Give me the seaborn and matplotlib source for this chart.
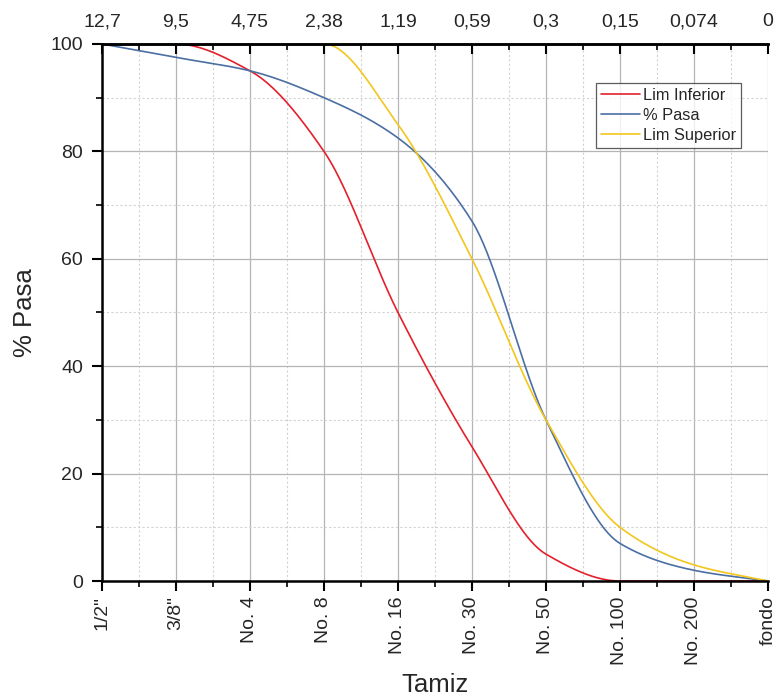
import numpy as np
import pandas as pd
import matplotlib
matplotlib.use("Agg")
import matplotlib.pyplot as plt
from matplotlib.ticker import MultipleLocator, FixedLocator
import seaborn as sns

sieves = ['1/2"', '3/8"', 'No. 4', 'No. 8', 'No. 16', 'No. 30', 'No. 50', 'No. 100', 'No. 200', 'fondo']
openings = ['12,7', '9,5', '4,75', '2,38', '1,19', '0,59', '0,3', '0,15', '0,074', '0']
lim_inferior = [100, 100, 95, 80, 50, 25, 5, 0, 0, 0]
pasa = [100, 97.5, 95, 90, 82.5, 67, 30, 7, 2, 0]
lim_superior = [100, 100, 100, 100, 85, 60, 30, 10, 3, 0]

series = {"Lim Inferior": lim_inferior, "% Pasa": pasa, "Lim Superior": lim_superior}
colors = {"Lim Inferior": "#E3202C", "% Pasa": "#4A6FA3", "Lim Superior": "#F2C61C"}


def pchip(x, y, xs):
    x = np.asarray(x, float); y = np.asarray(y, float)
    h = np.diff(x); d = np.diff(y) / h
    n = len(x); m = np.zeros(n)
    for k in range(1, n - 1):
        if d[k - 1] * d[k] > 0:
            w1 = 2 * h[k] + h[k - 1]; w2 = h[k] + 2 * h[k - 1]
            m[k] = (w1 + w2) / (w1 / d[k - 1] + w2 / d[k])
    m[0] = d[0] if d[0] * d[1] > 0 else 0
    m[-1] = d[-1] if d[-1] * d[-2] > 0 else 0
    idx = np.clip(np.searchsorted(x, xs) - 1, 0, n - 2)
    t = (xs - x[idx]) / h[idx]
    h00 = 2 * t**3 - 3 * t**2 + 1; h10 = t**3 - 2 * t**2 + t
    h01 = -2 * t**3 + 3 * t**2; h11 = t**3 - t**2
    return h00 * y[idx] + h10 * h[idx] * m[idx] + h01 * y[idx + 1] + h11 * h[idx] * m[idx + 1]


pos = np.arange(len(sieves))
xs = np.linspace(0, len(sieves) - 1, 600)
frames = []
for name, vals in series.items():
    frames.append(pd.DataFrame({"x": xs, "y": pchip(pos, vals, xs), "serie": name}))
df = pd.concat(frames, ignore_index=True)

sns.set_style("white")
plt.rcParams['font.family'] = ['Liberation Sans', 'DejaVu Sans']

fig = plt.figure(figsize=(7.82, 6.98), dpi=100)
ax = fig.add_axes([0.1304, 0.1676, 0.8517, 0.7694])

sns.lineplot(data=df, x="x", y="y", hue="serie", palette=colors, ax=ax,
             linewidth=1.2, estimator=None, sort=False)

ax.set_xlim(0, len(sieves) - 1)
ax.set_ylim(0, 100)
ax.xaxis.set_major_locator(FixedLocator(pos))
ax.xaxis.set_minor_locator(MultipleLocator(0.5))
ax.set_xticklabels(sieves, rotation=90, fontsize=14)
ax.yaxis.set_major_locator(MultipleLocator(20))
ax.yaxis.set_minor_locator(MultipleLocator(10))
ax.tick_params(axis='y', labelsize=14, pad=6)
ax.tick_params(which='major', direction='out', length=7.5, width=1.5, color='black')
ax.tick_params(which='minor', direction='out', length=4.5, width=1.2, color='black')
ax.tick_params(axis='y', which='both', left=True)
ax.tick_params(axis='x', which='both', bottom=True)

ax.grid(which='major', color='#B5B5B5', linewidth=0.9, linestyle='-')
ax.grid(which='minor', color='#D2D2D2', linewidth=0.8, linestyle=(0, (2, 2)))
ax.set_axisbelow(True)

for s in ['left', 'bottom', 'top']:
    ax.spines[s].set_color('black')
    ax.spines[s].set_linewidth(1.8)
ax.spines['right'].set_visible(False)

ax.set_xlabel("Tamiz", fontsize=18.5, labelpad=6)
ax.set_ylabel("% Pasa", fontsize=18.5, labelpad=10)

top = ax.twiny()
top.set_xlim(ax.get_xlim())
top.xaxis.set_major_locator(FixedLocator(pos))
top.xaxis.set_minor_locator(MultipleLocator(0.5))
top.set_xticklabels(openings, fontsize=14)
top.tick_params(which='major', direction='in', length=7.5, width=1.5, color='black', pad=10)
top.tick_params(which='minor', direction='in', length=4.5, width=1.2, color='black')
top.tick_params(axis='x', which='both', top=True)
for s in ['left', 'bottom', 'right']:
    top.spines[s].set_visible(False)
top.spines['top'].set_linewidth(1.8)
top.spines['top'].set_color('black')

leg = ax.legend(loc='upper left', bbox_to_anchor=(0.742, 0.927), fontsize=11.8,
                frameon=True, fancybox=False, edgecolor='#333333', borderpad=0.3,
                handlelength=2.4, handletextpad=0.15, labelspacing=0.3, borderaxespad=0)
leg.get_frame().set_linewidth(0.9)
for line in leg.get_lines():
    line.set_linewidth(1.2)

fig.savefig("out.png", dpi=100)
